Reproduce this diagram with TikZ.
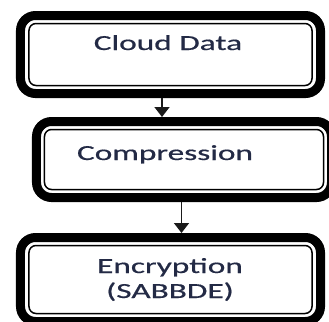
\documentclass[tikz,border=0pt]{standalone}
\usepackage{fontspec}
\usepackage{graphicx}
\setmainfont{Carlito}
\newfontfamily\labelfont{Carlito}[FakeBold=0.45]
\usetikzlibrary{arrows.meta}
\definecolor{labelblue}{HTML}{232A45}
\definecolor{linegray}{HTML}{1A1A1A}

\tikzset{
  % outer heavy frame of a step box; anchors sit on the outer edge
  outerframe/.style={draw=black, line width=9bp, rounded corners=15bp,
    inner sep=0pt, outer sep=4.5bp, fill=white},
  % thin frame set just inside the heavy one
  innerframe/.style={draw=black, line width=1.5bp, rounded corners=7bp,
    inner sep=0pt, outer sep=0pt},
  steplabel/.style={anchor=base, inner sep=0pt, text=labelblue,
    font=\labelfont\fontsize{21.5bp}{25bp}\selectfont},
  flow/.style={draw=linegray, line width=1.6bp,
    -{Triangle[width=15bp,length=10bp]}},
}

\begin{document}
\begin{tikzpicture}[x=1bp, y=-1bp]
  \useasboundingbox (0,0) rectangle (329,322);
  \clip (0,0) rectangle (329,322);

  % frames
  \node[outerframe, minimum width=300bp, minimum height=78bp] (b1) at (170.5,54.5) {};
  \node[innerframe, minimum width=283bp, minimum height=62bp] (b1in) at (170.5,54.5) {};

  \node[outerframe, minimum width=295bp, minimum height=76bp] (b2) at (184,159.5) {};
  \node[innerframe, minimum width=279bp, minimum height=60bp] (b2in) at (184,159.5) {};

  \node[outerframe, minimum width=300bp, minimum height=84bp] (b3) at (170.5,279.5) {};
  \node[innerframe, minimum width=283bp, minimum height=68bp] (b3in) at (170.5,279.5) {};

  % captions
  \node[steplabel] (t1) at (168,50) {\scalebox{1.55}[1]{Cloud Data}};
  \node[steplabel] (t2) at (165,160) {\scalebox{1.55}[1]{Compression}};
  \node[steplabel] (t3a) at (170,273) {\scalebox{1.55}[1]{Encryption}};
  \node[steplabel] (t3b) at (170,298) {\scalebox{1.55}[1]{(SABBDE)}};

  % connectors
  \coordinate (c1) at (162,0);
  \coordinate (c2) at (181.5,0);
  \draw[flow] (b1.south -| c1) -- (b2.north -| c1);
  \draw[flow] (b2.south -| c2) -- (b3.north -| c2);
\end{tikzpicture}
\end{document}
